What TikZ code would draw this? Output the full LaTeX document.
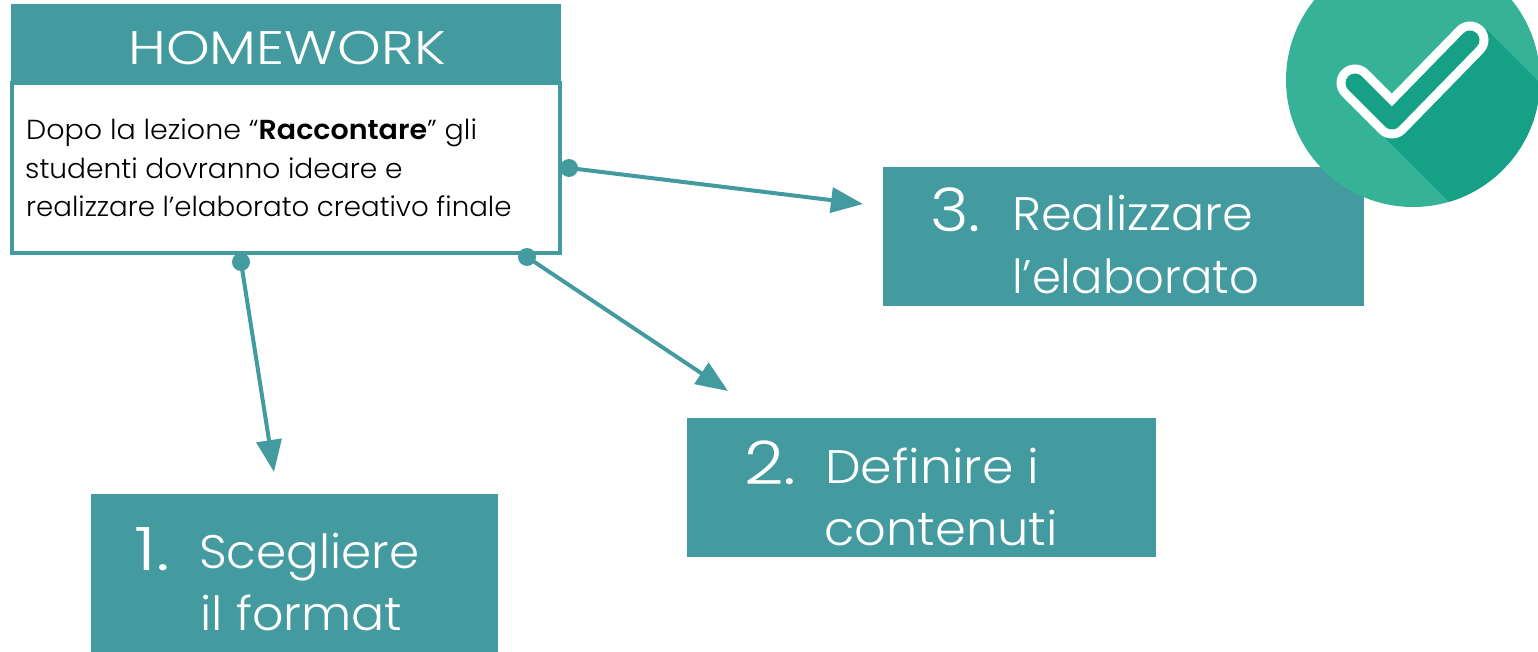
\documentclass[tikz,border=0pt]{standalone}
\usepackage{fontspec}
\usepackage{graphicx}
\setmainfont{Poppins}[UprightFont=* Light,BoldFont=* SemiBold]
\usetikzlibrary{arrows.meta}
\definecolor{teal1}{HTML}{449B9F}
\definecolor{mint}{HTML}{36B396}
\definecolor{mintd}{HTML}{16A085}
\newcommand{\sx}[2]{\scalebox{#1}[1]{#2}}
\tikzset{
  box/.style={fill=teal1,inner sep=0pt,outer sep=0pt,anchor=north west},
  lab/.style={text=white,inner sep=0pt,anchor=base west,font=\fontsize{47}{47}\selectfont},
  num/.style={text=white,inner sep=0pt,anchor=base west,font=\fontsize{60}{60}\selectfont},
  body/.style={text=black,inner sep=0pt,anchor=base west,font=\fontsize{27.5}{27.5}\selectfont},
  dot/.style={circle,fill=teal1,inner sep=0pt,minimum size=18pt},
  conn/.style={draw=teal1,line width=4pt,-{Triangle[length=32pt,width=25pt,fill=teal1]}},
}
\begin{document}
\begin{tikzpicture}[x=1pt,y=-1pt]
\useasboundingbox (0,0) rectangle (1538,652);
\fill[white] (0,0) rectangle (1538,652);
% boxes
\node[box,minimum width=550pt,minimum height=78pt] (head) at (11,4) {};
\node[box,fill=white,draw=teal1,line width=4pt,minimum width=548pt,minimum height=170pt] (main) at (12,83) {};
\node[box,minimum width=481pt,minimum height=139pt] (b3) at (883,167) {};
\node[box,minimum width=469pt,minimum height=139pt] (b2) at (687,418) {};
\node[box,minimum width=407pt,minimum height=158pt] (b1) at (91,494) {};
% header
\node[text=white,inner sep=0pt,anchor=base,font=\fontsize{47}{47}\selectfont] (headt) at (287,65) {\sx{1.183}{HOMEWORK}};
% body text
\node[body] (l1) at (26,140) {\sx{1.037}{Dopo la lezione “\textbf{Raccontare}” gli}};
\node[body] (l2) at (25,179) {\sx{1.02}{studenti dovranno ideare e}};
\node[body] (l3) at (26,217) {\sx{1.006}{realizzare l’elaborato creativo finale}};
% dots
\node[dot] (d1) at (241,262) {};
\node[dot] (d2) at (527,257) {};
\node[dot] (d3) at (569,168) {};
\coordinate (t1) at (274,472);
\coordinate (t2) at (728,391);
\coordinate (t3) at (863,204);
\draw[conn] (d1.center) -- (t1);
\draw[conn] (d2.center) -- (t2);
\draw[conn] (d3.center) -- (t3);
% labels
\node[num] (n3) at (930,232) {\sx{1.1}{3.}};
\node[lab] (t3a) at (1012,231) {\sx{1.05}{Realizzare}};
\node[lab] (t3b) at (1012,293) {\sx{0.99}{l’elaborato}};
\node[num] (n2) at (744,484) {\sx{1.15}{2.}};
\node[lab] (t2a) at (825,483) {\sx{1.076}{Definire i}};
\node[lab] (t2b) at (824,545) {\sx{1.054}{contenuti}};
\node[num] (n1) at (134,570) {\sx{1.25}{1.}};
\node[lab] (t1a) at (199,568) {\sx{1.03}{Scegliere}};
\node[lab] (t1b) at (200,630) {\sx{1.045}{il format}};
% check badge
\begin{scope}
\clip (0,0) rectangle (1538,652);
\fill[mint] (1413,80) circle (127);
\begin{scope}
\clip (1413,80) circle (127);
\fill[mintd] (1385,138) -- (1465,218) -- (1640,218) -- (1640,183) -- (1487,30) -- (1392,120) -- cycle;
\end{scope}
\draw[white,line width=37pt,line cap=round,line join=round] (1355,83) -- (1392,120) -- (1470,40);
\draw[mintd,line width=19pt,line cap=round,line join=round] (1355,83) -- (1392,120) -- (1470,40);
\end{scope}
\end{tikzpicture}
\end{document}
